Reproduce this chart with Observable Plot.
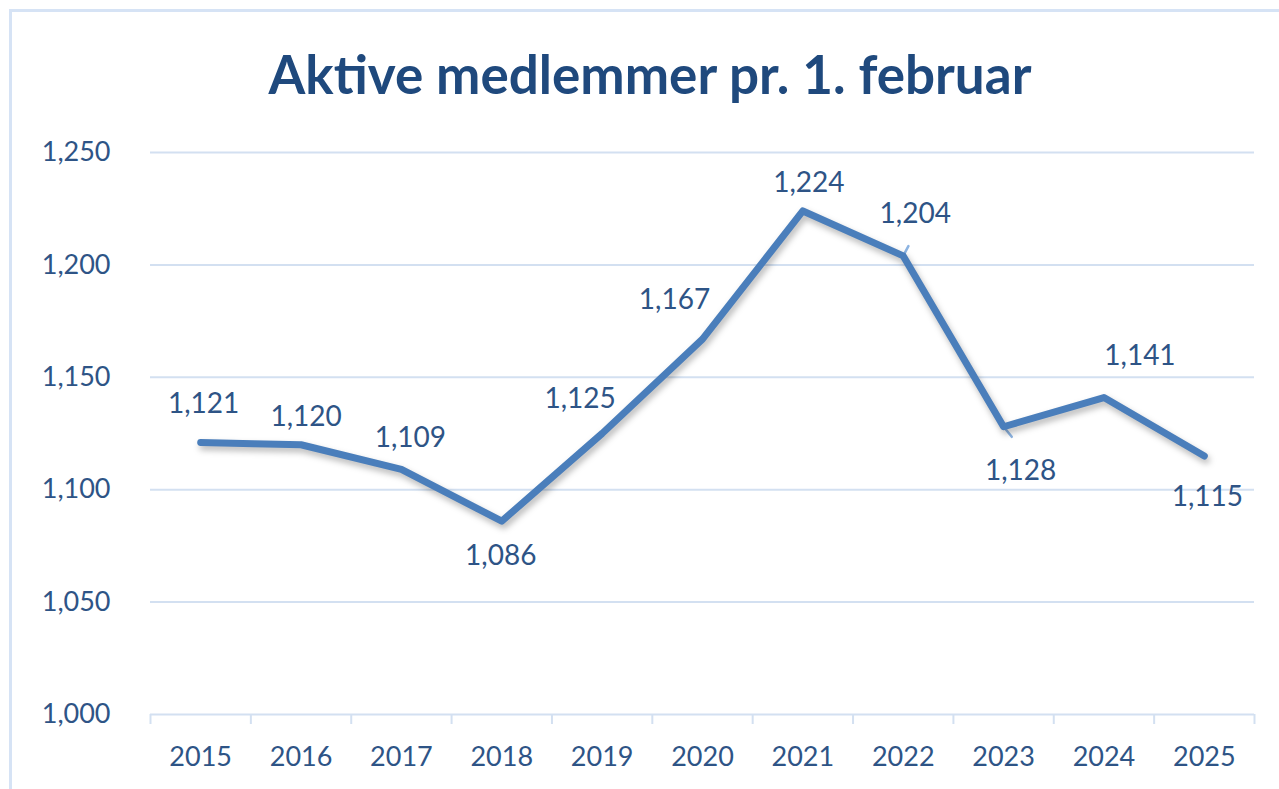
<!DOCTYPE html>
<html>
<head>
<meta charset="utf-8">
<script src="https://cdn.jsdelivr.net/npm/d3@7"></script>
<script src="https://cdn.jsdelivr.net/npm/@observablehq/plot@0.6"></script>
<style>
  html, body { margin: 0; padding: 0; background: #fff; }
  body { width: 1279px; height: 789px; position: relative; overflow: hidden; font-family: Lato, "Open Sans", sans-serif; }
  #frame { position: absolute; left: 9px; top: 9px; width: 1300px; height: 800px; border-left: 3px solid #D6E3F5; border-top: 3px solid #D6E3F5; box-sizing: border-box; }
  #title { position: absolute; left: 0; top: 42px; width: 1300px; text-align: center; font-family: Lato, sans-serif; font-weight: 700; font-size: 53px; color: #1F497D; line-height: 64px; white-space: nowrap; }
  #chart { position: absolute; left: 0; top: 120px; }
  #chart g[aria-label="line"] path { filter: drop-shadow(2px 4px 3px rgba(0,0,0,0.28)); }
</style>
</head>
<body>
<div id="frame"></div>
<div id="title">Aktive medlemmer pr. 1. februar</div>
<div id="chart"></div>
<script>
// ---- data ----
const years = [2015, 2016, 2017, 2018, 2019, 2020, 2021, 2022, 2023, 2024, 2025];
const members = [1121, 1120, 1109, 1086, 1125, 1167, 1224, 1204, 1128, 1141, 1115];
const yTicks = [1000, 1050, 1100, 1150, 1200, 1250];

// ---- label placement (pixel offsets from each point) ----
const labelOffsets = [
  [3, -38], [5, -28], [9, -31], [-1, 35], [-22, -34], [-28, -39],
  [6, -28], [12, -42], [17, 44], [36, -42], [3, 41]
];
// leader lines: [index, length px, rotate deg]
const leaders = [[7, 17, 28], [8, 20, 141]];

const textColor = "#2E5486";
const gridColor = "#D3E0F1";
const lineColor = "#4A7EBB";

const data = years.map((year, i) => ({year, value: members[i], i}));
const boundaries = years.map(y => y - 0.5).concat([years[years.length - 1] + 0.5]);
const fmt = d3.format(",");

const leaderShape = {
  draw(context, l) { context.moveTo(0, 0); context.lineTo(0, -l); }
};

const chart = Plot.plot({
  width: 1279,
  height: 669,
  marginTop: 32,
  marginBottom: 75,
  marginLeft: 150,
  marginRight: 25,
  style: {fontFamily: "Lato, 'Open Sans', sans-serif", fontSize: "27px", color: textColor, background: "transparent", overflow: "visible"},
  x: {type: "linear", domain: [boundaries[0], boundaries[boundaries.length - 1]]},
  y: {domain: [yTicks[0], yTicks[yTicks.length - 1]]},
  marks: [
    Plot.ruleY(yTicks, {stroke: gridColor, strokeWidth: 2}),
    Plot.axisY({ticks: yTicks, tickSize: 0, tickPadding: 40, tickFormat: fmt, label: null, fill: textColor, fontSize: 27}),
    Plot.axisX({ticks: boundaries, tickSize: 10, tickFormat: () => "", label: null, stroke: gridColor, strokeWidth: 2, strokeOpacity: 1}),
    Plot.axisX({ticks: years, tickSize: 0, tickPadding: 32, tickFormat: d => String(d), label: null, fill: textColor, fontSize: 27}),
    Plot.vector(leaders.map(([i, len, rot]) => ({year: years[i], value: members[i], len, rot})), {
      x: "year", y: "value", length: "len", rotate: "rot", anchor: "start",
      shape: leaderShape, stroke: "#8DB4E2", strokeWidth: 2.5
    }),
    Plot.line(data, {x: "year", y: "value", stroke: lineColor, strokeWidth: 7, strokeLinecap: "round", strokeLinejoin: "round"}),
    ...data.map((d, i) => Plot.text([d], {
      x: "year", y: "value", text: dd => fmt(dd.value),
      dx: labelOffsets[i][0], dy: labelOffsets[i][1],
      fill: textColor, fontSize: 28
    }))
  ]
});
document.getElementById("chart").appendChild(chart);
</script>
</body>
</html>
